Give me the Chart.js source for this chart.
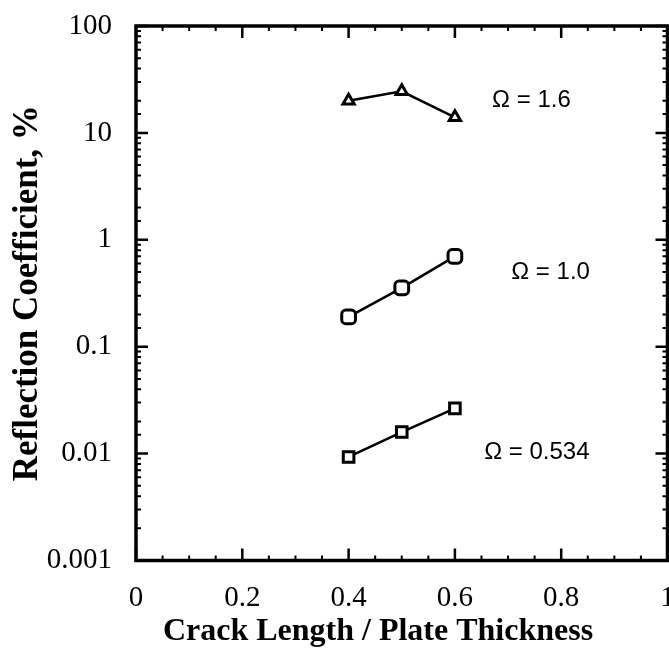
<!DOCTYPE html>
<html>
<head>
<meta charset="utf-8">
<script src="https://cdn.jsdelivr.net/npm/chart.js@4"></script>
<style>
  html, body { margin: 0; padding: 0; background: #fff; overflow: hidden; }
  #wrap { width: 669px; height: 648px; }
</style>
</head>
<body>
<div id="wrap"><canvas id="myChart"></canvas></div>
<script>
// crack length / plate thickness
const crackRatio = [0.4, 0.5, 0.6];
// reflection coefficient, %
const omega160 = [20, 24.5, 14];
const omega100 = [0.19, 0.355, 0.70];
const omega0534 = [0.0093, 0.0159, 0.0265];
const seriesNames = ["Ω = 1.6", "Ω = 1.0", "Ω = 0.534"];
const xTicks = [0, 0.2, 0.4, 0.6, 0.8, 1];
const yDecades = [0.001, 0.01, 0.1, 1, 10, 100];

const serif = "'Liberation Serif', 'Times New Roman', serif";
const sans = "'Liberation Sans', Arial, sans-serif";

function isDecade(v) {
  return yDecades.some(d => Math.abs(v / d - 1) < 1e-6);
}

function pts(ys) {
  return crackRatio.map((x, i) => ({ x: x, y: ys[i] }));
}

// frame + inward ticks, series labels, x title
const framePlugin = {
  id: 'framePlugin',
  afterDatasetsDraw(chart) {
    const { ctx, chartArea: a, scales: { x, y } } = chart;
    ctx.save();
    ctx.strokeStyle = '#000';
    ctx.lineCap = 'butt';

    // y ticks, left and right
    y.ticks.forEach(t => {
      const py = y.getPixelForValue(t.value);
      const major = isDecade(t.value);
      const len = major ? 12 : 5;
      ctx.lineWidth = major ? 2.5 : 2;
      ctx.beginPath();
      ctx.moveTo(a.left, py); ctx.lineTo(a.left + len, py);
      ctx.moveTo(a.right, py); ctx.lineTo(a.right - len, py);
      ctx.stroke();
    });

    // x ticks, bottom and top, minor every quarter step
    const xv = x.ticks.map(t => t.value);
    for (let i = 0; i < xv.length; i++) {
      const vals = [[xv[i], true]];
      if (i < xv.length - 1) {
        const step = (xv[i + 1] - xv[i]) / 4;
        for (let k = 1; k < 4; k++) vals.push([xv[i] + k * step, false]);
      }
      vals.forEach(([v, major]) => {
        const px = x.getPixelForValue(v);
        const len = major ? 12 : 5;
        ctx.lineWidth = major ? 2.5 : 2;
        ctx.beginPath();
        ctx.moveTo(px, a.bottom); ctx.lineTo(px, a.bottom - len);
        ctx.moveTo(px, a.top); ctx.lineTo(px, a.top + len);
        ctx.stroke();
      });
    }

    ctx.lineWidth = 3.5;
    ctx.strokeRect(a.left, a.top, a.right - a.left, a.bottom - a.top);

    // series labels
    const anchors = [[0.670, 20.3], [0.706, 0.50], [0.655, 0.0102]];
    ctx.fillStyle = '#000';
    ctx.font = '24px ' + sans;
    ctx.textAlign = 'left';
    ctx.textBaseline = 'middle';
    seriesNames.forEach((s, i) => {
      ctx.fillText(s, x.getPixelForValue(anchors[i][0]), y.getPixelForValue(anchors[i][1]));
    });

    // x axis title
    ctx.font = 'bold 32px ' + serif;
    ctx.textAlign = 'center';
    ctx.textBaseline = 'alphabetic';
    ctx.fillText('Crack Length / Plate Thickness', 378, 640);
    ctx.restore();
  }
};

const markerStyles = ['triangle', 'rectRounded', 'rect'];
const markerRadius = [6.5, 8, 7.5];

new Chart("myChart", {
  type: "line",
  data: {
    datasets: [omega160, omega100, omega0534].map((ys, i) => ({
      label: seriesNames[i],
      data: pts(ys),
      borderColor: '#000',
      borderWidth: 2.5,
      pointStyle: markerStyles[i],
      pointRadius: markerRadius[i],
      pointBorderWidth: 3,
      pointBackgroundColor: '#fff',
      pointBorderColor: '#000',
      tension: 0
    }))
  },
  options: {
    responsive: true,
    maintainAspectRatio: false,
    animation: false,
    layout: { autoPadding: false, padding: { top: 26, right: 1.5, left: 0, bottom: 0 } },
    plugins: {
      legend: { display: false },
      tooltip: { enabled: false }
    },
    scales: {
      x: {
        type: 'linear',
        min: 0,
        max: 1,
        afterBuildTicks: s => { s.ticks = xTicks.map(v => ({ value: v })); },
        afterFit: s => { s.height = 87.5; s.paddingLeft = 0; s.paddingRight = 0; },
        grid: { display: false, drawTicks: false },
        border: { display: false },
        ticks: {
          color: '#000',
          padding: 20,
          maxRotation: 0,
          autoSkip: false,
          font: { family: serif, size: 29 },
          callback: v => String(v)
        }
      },
      y: {
        type: 'logarithmic',
        min: 0.001,
        max: 100,
        afterFit: s => { s.width = 136; s.paddingTop = 0; s.paddingBottom = 0; },
        grid: { display: false, drawTicks: false },
        border: { display: false },
        title: {
          display: true,
          text: 'Reflection Coefficient, %',
          color: '#000',
          font: { family: serif, size: 35, weight: 'bold' },
          padding: { top: 7, bottom: 0 }
        },
        ticks: {
          color: '#000',
          padding: 24,
          autoSkip: false,
          font: { family: serif, size: 29 },
          callback: v => {
            const d = yDecades.find(d => Math.abs(v / d - 1) < 1e-6);
            return d === undefined ? '' : String(d);
          }
        }
      }
    }
  },
  plugins: [framePlugin]
});
</script>
</body>
</html>
